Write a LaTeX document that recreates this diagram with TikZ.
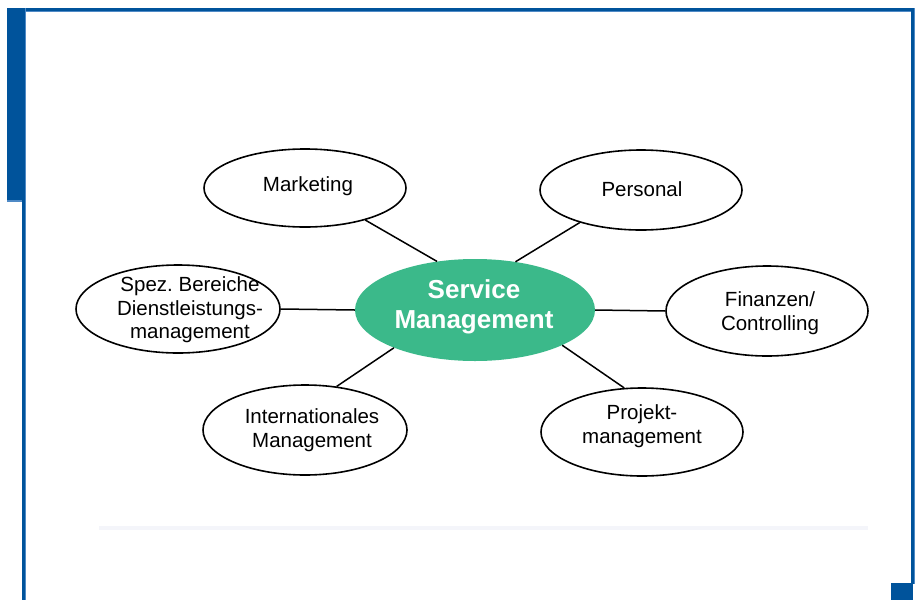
\documentclass[tikz,border=0pt]{standalone}
\usepackage{fontspec}
\setmainfont{Liberation Sans}
\usetikzlibrary{shapes.geometric}
\definecolor{frameblue}{HTML}{00539B}
\definecolor{framelight}{HTML}{4F8AC6}
\definecolor{smgreen}{HTML}{3BB98A}
\definecolor{faint}{HTML}{F4F5FA}
\frenchspacing
\tikzset{
  oval/.style={ellipse, draw=black, line width=1.6pt, fill=white, inner sep=0pt},
  lbl/.style={align=center, text=black, font=\fontsize{20.5}{23.5}\selectfont},
  link/.style={draw=black, line width=1.5pt},
}
\begin{document}
\begin{tikzpicture}[x=1pt,y=-1pt]
\useasboundingbox (0,0) rectangle (919,600);
\fill[white] (0,0) rectangle (919,600);
% frame
\fill[framelight] (7,8) rectangle (915,12);
\fill[frameblue] (7,8) rectangle (914,11);
\fill[framelight] (7,200) rectangle (24,202);
\fill[frameblue] (7,8) rectangle (24,200);
\fill[framelight] (22,8) rectangle (26,600);
\fill[frameblue] (22,8) rectangle (25,600);
\fill[framelight] (911,8) rectangle (915,584);
\fill[frameblue] (911,8) rectangle (914,584);
\fill[frameblue] (891,583) rectangle (913,600);
\fill[faint] (99,526) rectangle (868,530);
% nodes
\node[oval, minimum width=202pt, minimum height=78pt] (mk) at (305,188) {};
\node[oval, minimum width=202pt, minimum height=80pt] (ps) at (641,190) {};
\node[oval, minimum width=204pt, minimum height=88pt] (sp) at (178,309) {};
\node[oval, minimum width=202pt, minimum height=90pt] (fi) at (767,311) {};
\node[oval, minimum width=204pt, minimum height=90pt] (in) at (305,430) {};
\node[oval, minimum width=202pt, minimum height=88pt] (pj) at (642,432) {};
\node[ellipse, fill=smgreen, inner sep=0pt, minimum width=240pt, minimum height=102pt] (sm) at (475,310) {};
% connectors
\draw[link] (mk.-28.5) -- (sm.128);
\draw[link] (ps.-152.7) -- (sm.50.4);
\draw[link] (sp.east) -- (sm.west);
\draw[link] (fi.west) -- (sm.east);
\draw[link] (in.54) -- (sm.-155);
\draw[link] (pj.112.7) -- (sm.-22.7);
% labels
\node[lbl] (tmk) at (308,186) {Marketing};
\node[lbl] (tps) at (642,189) {Personal};
\node[lbl] (tsp) at (190,310) {Spez. Bereiche\\Dienstleistungs-\\management};
\node[lbl] (tfi) at (770,313) {Finanzen/\\Controlling};
\node[lbl] (tin) at (312,430) {Internationales\\Management};
\node[lbl] (tpj) at (642,426) {Projekt-\\management};
\node[align=center, text=white, font=\fontsize{26}{30}\selectfont\bfseries] (tsm) at (474,307) {Service\\Management};
\end{tikzpicture}
\end{document}
